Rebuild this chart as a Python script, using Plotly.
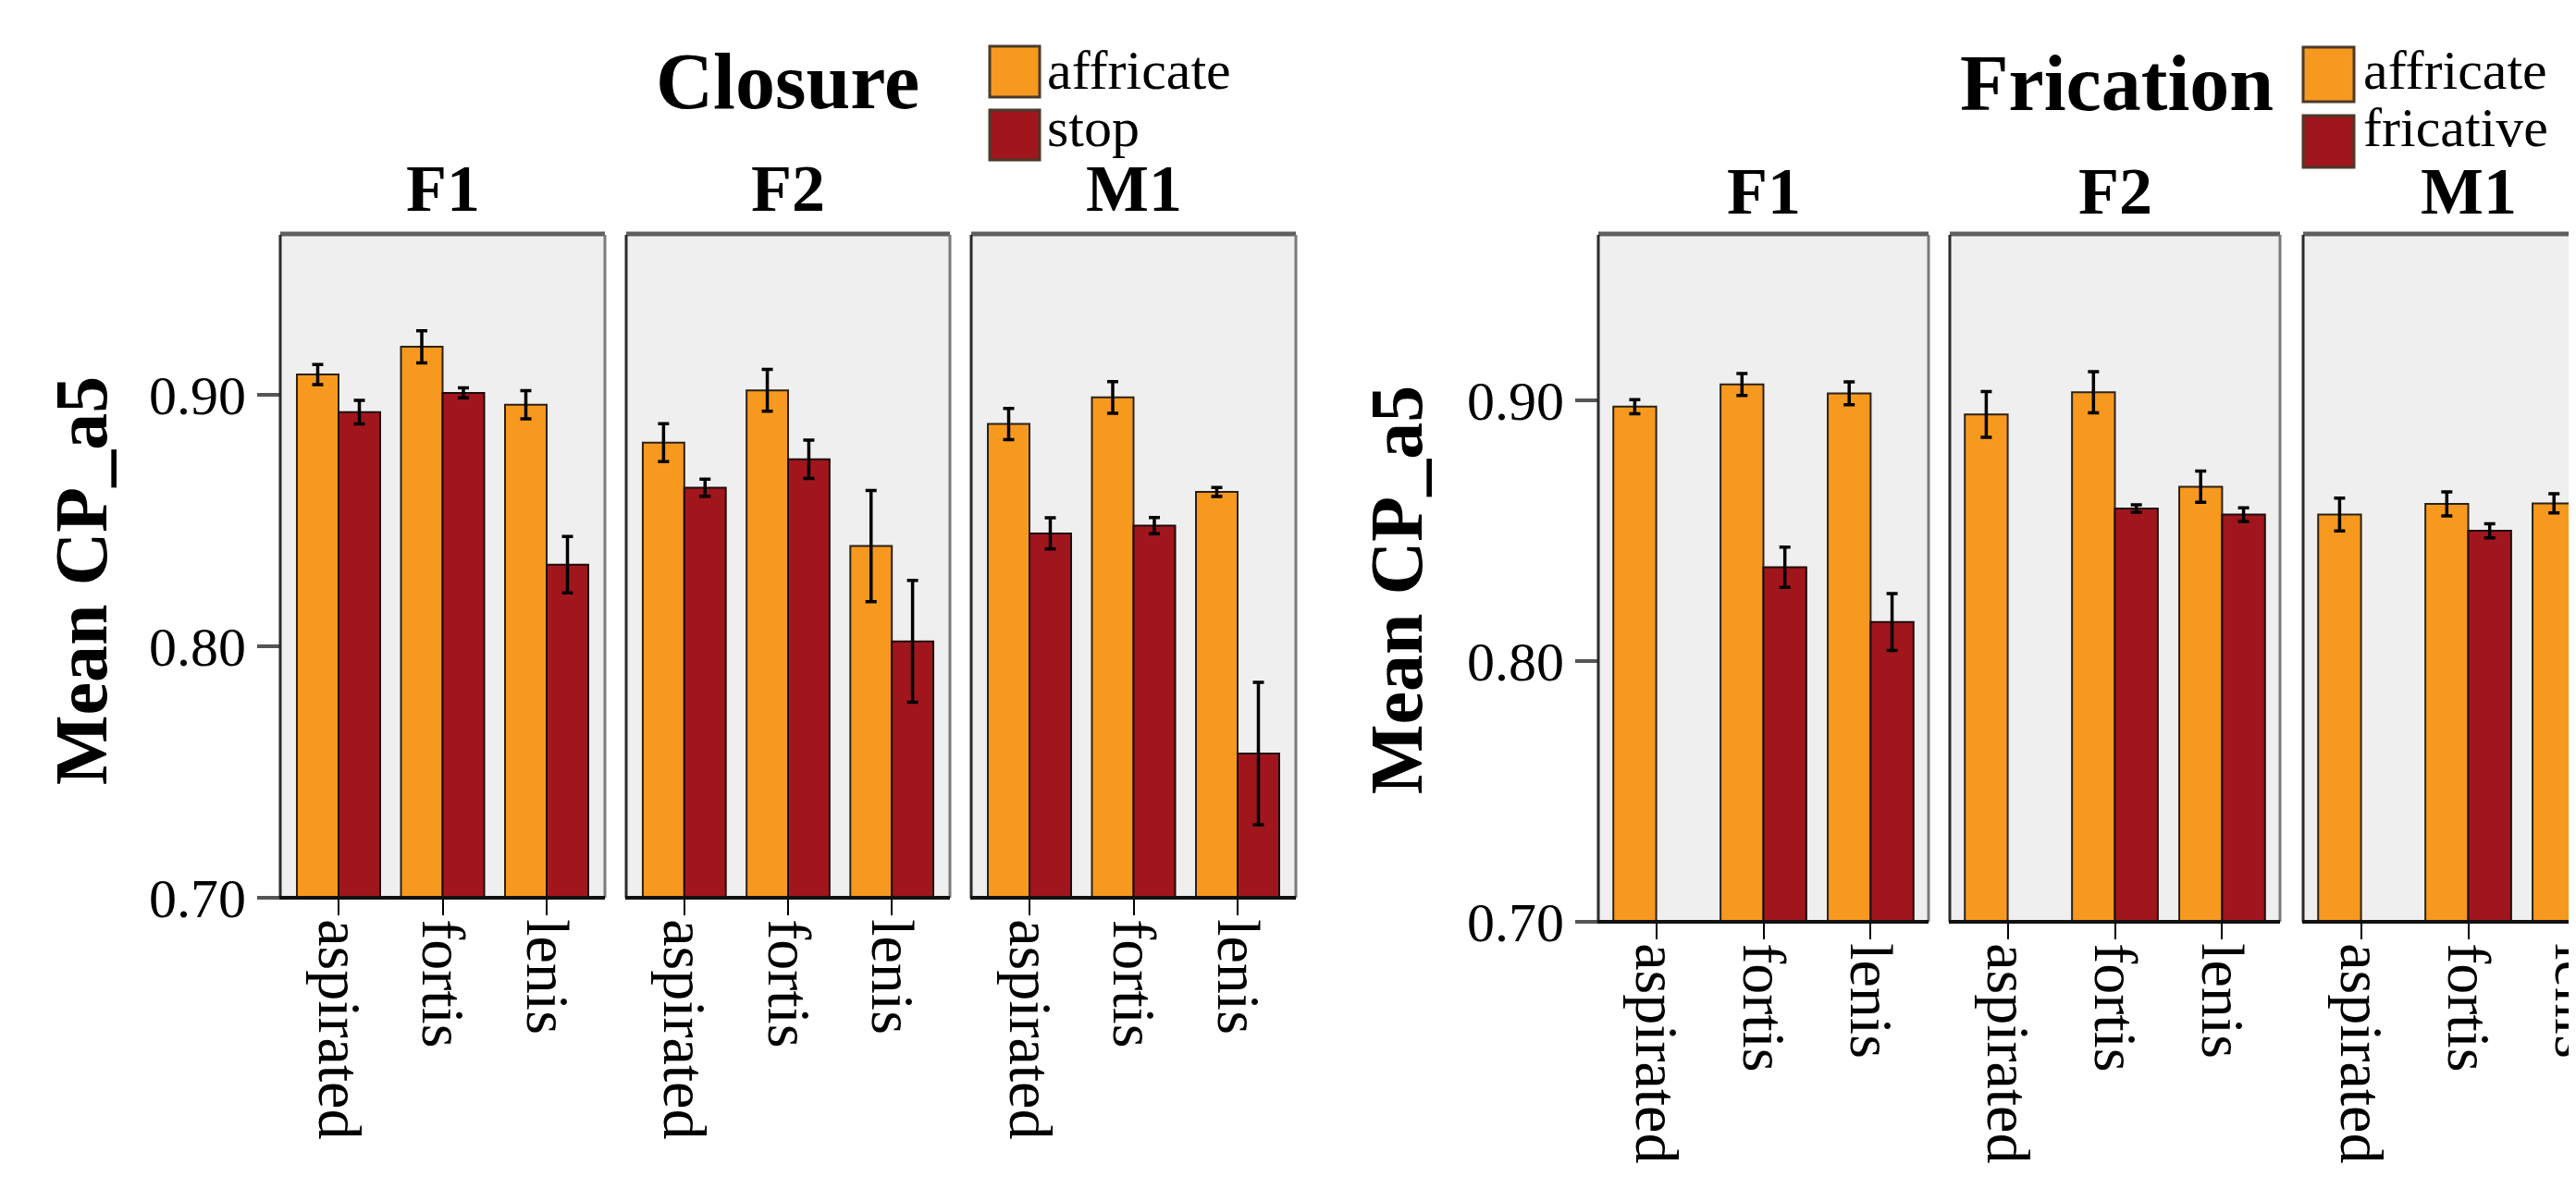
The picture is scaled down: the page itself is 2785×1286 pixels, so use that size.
import plotly.graph_objects as go

W, H = 2785, 1286

# ---------------- data ----------------
categories = ["aspirated", "fortis", "lenis"]
speakers = ["F1", "F2", "M1"]
y_tick_vals = [0.70, 0.80, 0.90]
y_tick_text = ["0.70", "0.80", "0.90"]

# Closure: affricate vs stop (mean, error half-width)
clo_aff_F1 = [0.908, 0.919, 0.896]
clo_aff_F1_err = [0.004, 0.0064, 0.0056]
clo_stop_F1 = [0.893, 0.9007, 0.8324]
clo_stop_F1_err = [0.0047, 0.002, 0.0112]

clo_aff_F2 = [0.8809, 0.9017, 0.8398]
clo_aff_F2_err = [0.0075, 0.0083, 0.0221]
clo_stop_F2 = [0.863, 0.8743, 0.8019]
clo_stop_F2_err = [0.0034, 0.0076, 0.0242]

clo_aff_M1 = [0.8883, 0.8989, 0.8613]
clo_aff_M1_err = [0.0062, 0.0063, 0.0018]
clo_stop_M1 = [0.8448, 0.8479, 0.7573]
clo_stop_M1_err = [0.0062, 0.0032, 0.0283]

# Frication: affricate vs fricative
fri_aff_F1 = [0.8976, 0.9061, 0.9027]
fri_aff_F1_err = [0.0027, 0.0042, 0.0044]
fri_fric_F1 = [None, 0.836, 0.815]
fri_fric_F1_err = [0, 0.0077, 0.0109]

fri_aff_F2 = [0.8946, 0.9031, 0.8669]
fri_aff_F2_err = [0.0088, 0.0079, 0.006]
fri_fric_F2 = [None, 0.8585, 0.8562]
fri_fric_F2_err = [0, 0.0014, 0.0026]

fri_aff_M1 = [0.8562, 0.8603, 0.8605]
fri_aff_M1_err = [0.0063, 0.0046, 0.0037]
fri_fric_M1 = [None, 0.8500, 0.8458]
fri_fric_M1_err = [0, 0.0027, 0.004]

# ---------------- style / layout ----------------
ORANGE = "#F7991E"
RED = "#A0161C"
PANEL_BG = "#EFEFEF"
FONT = "Liberation Serif"


def fx(px):
    return px / W


def fy(py):
    return 1 - py / H


TOP = 246
L_BOTTOM = 963
R_BOTTOM = 989
Y_RANGE = [0.70, 0.9635]

left_panels = [(295, 646), (669, 1019), (1042, 1393)]
right_panels = [(1720, 2077), (2100, 2457), (2482, 2785)]
left_range = [-0.56, 2.56]
right_range = [-0.54, 2.54]
right_last_range = [-0.54, -0.54 + (2785 - 2482) / ((2077 - 1720) / 3.08)]

fig = go.Figure()

panel_data = [
    ("x", "y", clo_aff_F1, clo_aff_F1_err, clo_stop_F1, clo_stop_F1_err, "stop"),
    ("x2", "y", clo_aff_F2, clo_aff_F2_err, clo_stop_F2, clo_stop_F2_err, "stop"),
    ("x3", "y", clo_aff_M1, clo_aff_M1_err, clo_stop_M1, clo_stop_M1_err, "stop"),
    ("x4", "y2", fri_aff_F1, fri_aff_F1_err, fri_fric_F1, fri_fric_F1_err, "fricative"),
    ("x5", "y2", fri_aff_F2, fri_aff_F2_err, fri_fric_F2, fri_fric_F2_err, "fricative"),
    ("x6", "y2", fri_aff_M1, fri_aff_M1_err, fri_fric_M1, fri_fric_M1_err, "fricative"),
]

for xa, ya, a, ae, b, be, bname in panel_data:
    fig.add_trace(go.Bar(
        x=categories, y=a, xaxis=xa, yaxis=ya, name="affricate",
        marker=dict(color=ORANGE, line=dict(color="#2a2218", width=2)),
        error_y=dict(type="data", array=ae, color="black", thickness=3.5, width=6),
        showlegend=False,
    ))
    fig.add_trace(go.Bar(
        x=categories, y=b, xaxis=xa, yaxis=ya, name=bname,
        marker=dict(color=RED, line=dict(color="#1e0a0a", width=2)),
        error_y=dict(type="data", array=be, color="black", thickness=3.5, width=6),
        showlegend=False,
    ))

xtickfont = dict(family=FONT, size=66, color="black")
ytickfont = dict(family=FONT, size=60, color="black")


def xaxis_cfg(domain_px, anchor, rng):
    return dict(
        domain=[fx(domain_px[0]), fx(domain_px[1])], anchor=anchor, range=rng,
        categoryorder="array", categoryarray=categories,
        tickangle=90, ticks="outside", ticklen=18, tickwidth=2, tickcolor="black",
        ticklabelstandoff=-9,
        tickfont=xtickfont, showgrid=False, zeroline=False, showline=False,
        automargin=False, fixedrange=True,
    )


layout_axes = {}
axis_names = ["xaxis", "xaxis2", "xaxis3", "xaxis4", "xaxis5", "xaxis6"]
for i, name in enumerate(axis_names):
    if i < 3:
        layout_axes[name] = xaxis_cfg(left_panels[i], "y", left_range)
    else:
        rng = right_last_range if i == 5 else right_range
        layout_axes[name] = xaxis_cfg(right_panels[i - 3], "y2", rng)

yaxis_common = dict(
    range=Y_RANGE, tickvals=y_tick_vals, ticktext=y_tick_text,
    ticks="outside", ticklen=24, tickwidth=4, tickcolor="#555555",
    tickfont=ytickfont, showgrid=False, zeroline=False, showline=False,
    automargin=False, fixedrange=True,
)
layout_axes["yaxis"] = dict(domain=[fy(L_BOTTOM), fy(TOP)], anchor="x", **yaxis_common)
layout_axes["yaxis2"] = dict(domain=[fy(R_BOTTOM), fy(TOP)], anchor="x4", **yaxis_common)

# ---------------- panel frames ----------------
shapes = []


def hline(x0, x1, y, color, width):
    shapes.append(dict(type="line", xref="paper", yref="paper",
                       x0=fx(x0), x1=fx(x1), y0=fy(y), y1=fy(y),
                       line=dict(color=color, width=width), layer="above"))


def vline(x, y0, y1, color, width):
    shapes.append(dict(type="line", xref="paper", yref="paper",
                       x0=fx(x), x1=fx(x), y0=fy(y0), y1=fy(y1),
                       line=dict(color=color, width=width), layer="above"))


for idx, (x0, x1) in enumerate(left_panels + right_panels):
    bottom = L_BOTTOM if idx < 3 else R_BOTTOM
    hline(x0, x1, TOP - 1, "#5f5f5f", 5)
    vline(x0, TOP, bottom, "#2b2b2b", 3)
    if idx != 5:
        vline(x1, TOP, bottom, "#7a7a7a", 3)
    hline(x0 - 1, x1, bottom, "#111111", 4)

# legend swatches
legend_boxes = [
    (1062, 1116, 42, 97, ORANGE),
    (1062, 1116, 111, 165, RED),
    (2482, 2537, 43, 102, ORANGE),
    (2482, 2537, 117, 173, RED),
]
for x0, x1, y0, y1, col in legend_boxes:
    shapes.append(dict(type="rect", xref="paper", yref="paper",
                       x0=fx(x0), x1=fx(x1), y0=fy(y1), y1=fy(y0),
                       fillcolor=col, line=dict(color="#4a3a2a", width=3)))

# ---------------- text ----------------
annotations = []


def add_text(text, x, y, size, bold=False, xanchor="center", angle=0):
    annotations.append(dict(
        text=text, x=fx(x), y=fy(y), xref="paper", yref="paper",
        xanchor=xanchor, yanchor="middle", showarrow=False, textangle=angle,
        font=dict(family=FONT, size=size, color="black",
                  weight="bold" if bold else "normal"),
    ))


add_text("Closure", 844, 80, 86, bold=True)
add_text("Frication", 2280, 82, 86, bold=True)

left_centers = [(a + b) / 2 for a, b in left_panels]
right_centers = [(1720 + 2077) / 2, (2100 + 2457) / 2, 2482 + (2077 - 1720) / 2]
for name, cx in zip(speakers, left_centers):
    add_text(name, cx, 196, 72, bold=True)
for name, cx in zip(speakers, right_centers):
    add_text(name, cx, 199, 72, bold=True)

add_text("affricate", 1122, 68, 60, xanchor="left")
add_text("stop", 1122, 130, 60, xanchor="left")
add_text("affricate", 2545, 68, 60, xanchor="left")
add_text("fricative", 2545, 130, 60, xanchor="left")

add_text("Mean CP_a5", 80, 620, 80, bold=True, angle=-90)
add_text("Mean CP_a5", 1502, 630, 80, bold=True, angle=-90)

fig.update_layout(
    template="none",
    width=W, height=H,
    margin=dict(l=0, r=0, t=0, b=0, pad=0),
    paper_bgcolor="white",
    plot_bgcolor=PANEL_BG,
    barmode="group", bargap=0.2, bargroupgap=0,
    showlegend=False,
    shapes=shapes,
    annotations=annotations,
    **layout_axes,
)

fig.write_html("out.html")
